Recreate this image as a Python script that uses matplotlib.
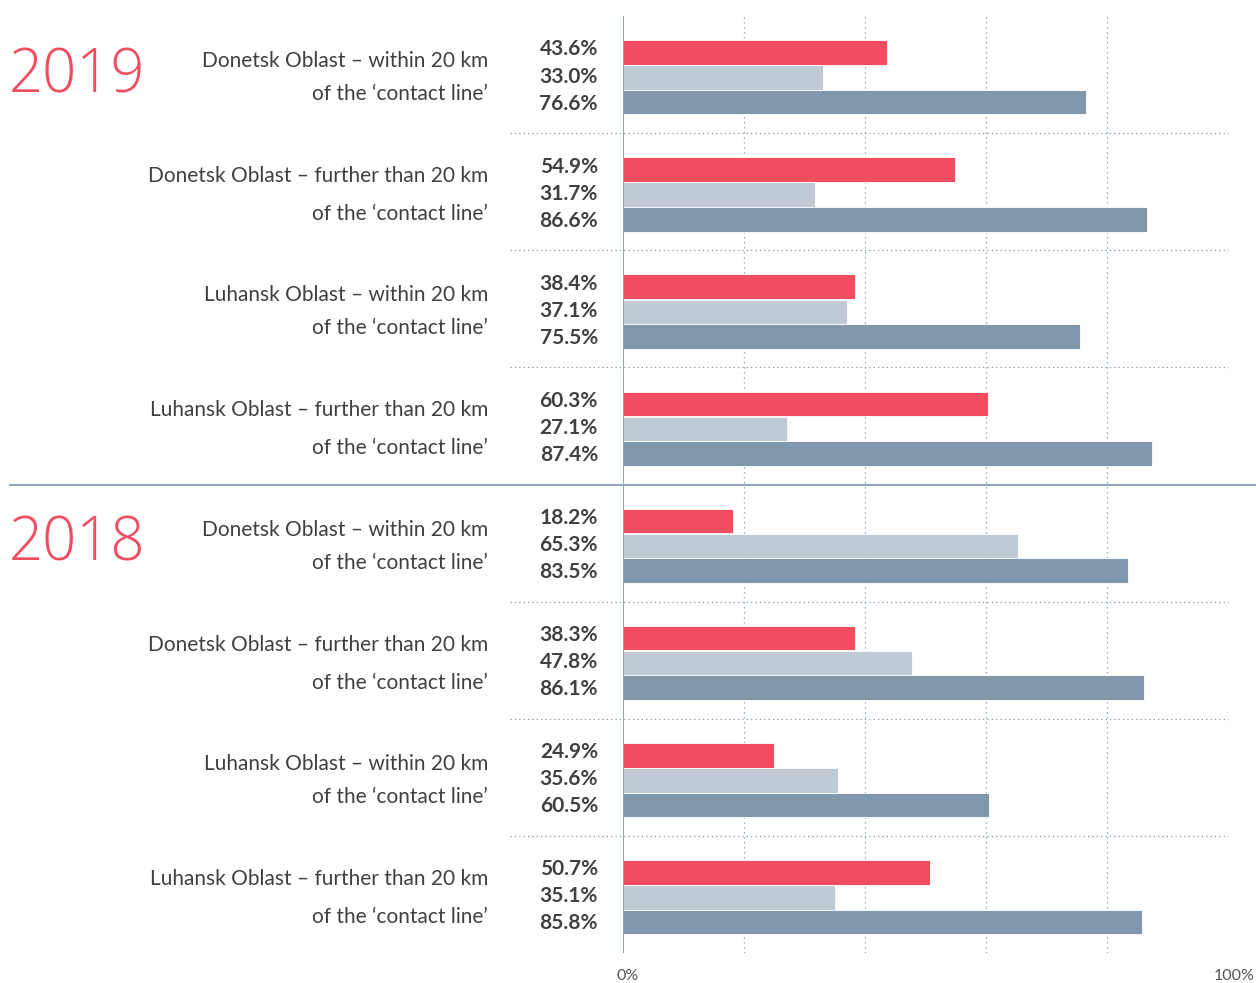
import numpy as np
import matplotlib
matplotlib.use("Agg")
from matplotlib import pyplot as plt
from matplotlib import transforms

# データ
years = ["2019", "2018"]
groups = [
    ("Donetsk Oblast – within 20 km", "of the ‘contact line’"),
    ("Donetsk Oblast – further than 20 km", "of the ‘contact line’"),
    ("Luhansk Oblast – within 20 km", "of the ‘contact line’"),
    ("Luhansk Oblast – further than 20 km", "of the ‘contact line’"),
]
red_vals = [43.6, 54.9, 38.4, 60.3, 18.2, 38.3, 24.9, 50.7]
light_vals = [33.0, 31.7, 37.1, 27.1, 65.3, 47.8, 35.6, 35.1]
dark_vals = [76.6, 86.6, 75.5, 87.4, 83.5, 86.1, 60.5, 85.8]
tick_labels = ["0%", "100%"]

RED = "#f04e60"
LIGHT = "#c0cad4"
DARK = "#8198ac"
GRID = "#7f97b0"
TXT = "#404040"

plt.rcParams["font.family"] = ["Lato", "DejaVu Sans"]

W, H = 1256, 983
fig = plt.figure(figsize=(W / 100, H / 100), dpi=100)
ax = fig.add_axes([623 / W, 1 - 953 / H, (1228 - 623) / W, (953 - 16) / H])
ax.set_xlim(0, 100)
ax.set_ylim(8, 0)

n = len(red_vals)
idx = np.arange(n)
bh = 0.21
ax.barh(idx + 0.312, red_vals, height=bh, color=RED, edgecolor="white", linewidth=0.6, zorder=3)
ax.barh(idx + 0.526, light_vals, height=bh, color=LIGHT, edgecolor="white", linewidth=0.6, zorder=3)
ax.barh(idx + 0.735, dark_vals, height=bh, color=DARK, edgecolor="white", linewidth=0.6, zorder=3)

# グリッド
for gx in [20, 40, 60, 80, 100]:
    ax.axvline(gx, color=GRID, lw=0.9, ls=(0, (1, 3)), zorder=1)
for s in ax.spines.values():
    s.set_visible(False)
ax.axvline(0, color=GRID, lw=1.2, zorder=4)
ax.set_xticks([])
ax.set_yticks([])

tr = transforms.blended_transform_factory(fig.transFigure, ax.transData)

# 区切り線
for i in range(1, n):
    if i == 4:
        ax.plot([10 / W, 1.0], [i, i], transform=tr, color="#94a7b8", lw=1.5, clip_on=False, zorder=5)
    else:
        ax.plot([510 / W, 1228 / W], [i, i], transform=tr, color=GRID, lw=0.9,
                ls=(0, (1, 2.5)), clip_on=False, zorder=2)

# ラベル
for i in range(n):
    for off, v in zip([0.286, 0.517, 0.748], [red_vals[i], light_vals[i], dark_vals[i]]):
        ax.text(598 / W, i + off, f"{v:.1f}%", transform=tr, ha="right", va="center",
                fontsize=15, fontweight="bold", color=TXT)
    l1, l2 = groups[i % 4]
    if "within" in l1:
        o1, o2 = 0.385, 0.667
    else:
        o1, o2 = 0.367, 0.692
    ax.text(488 / W, i + o1, l1, transform=tr, ha="right", va="center", fontsize=15, color=TXT)
    ax.text(488 / W, i + o2, l2, transform=tr, ha="right", va="center", fontsize=15, color=TXT)

for y, lab in zip([0.52, 4.515], years):
    ax.text(9 / W, y, lab, transform=tr, ha="left", va="center", fontsize=43,
            family=["Open Sans", "DejaVu Sans"], fontweight="light", color=RED)

fig.text(628 / W, 1 - 976 / H, tick_labels[0], ha="center", va="center", fontsize=11.5, color="#555555")
fig.text(1234 / W, 1 - 976 / H, tick_labels[1], ha="center", va="center", fontsize=11.5, color="#555555")

fig.savefig("out.png", dpi=100)
